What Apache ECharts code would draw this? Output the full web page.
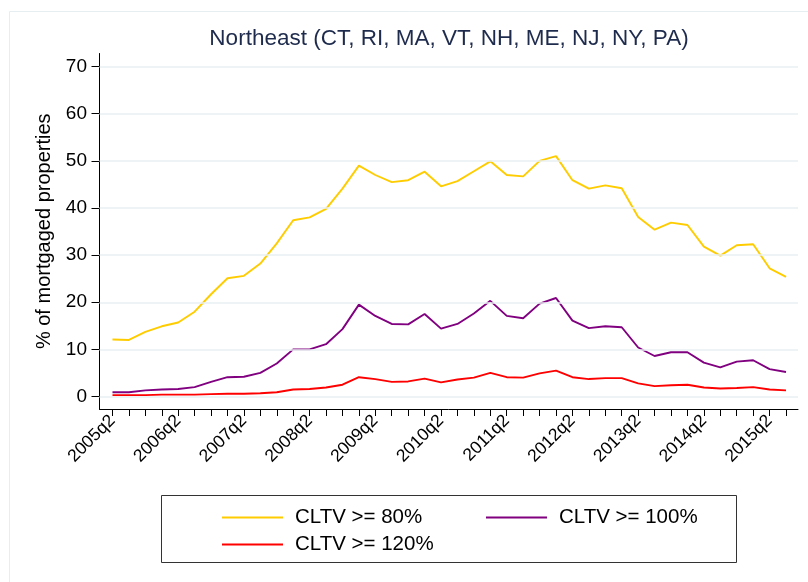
<!DOCTYPE html>
<html>
<head>
<meta charset="utf-8">
<script src="https://cdn.jsdelivr.net/npm/echarts@6/dist/echarts.min.js"></script>
<style>
  html, body { margin: 0; padding: 0; background: #fff; }
  #chart { width: 808px; height: 582px; }
</style>
</head>
<body>
<div id="chart"></div>
<script>
// Quarters covered by the series (2005q2 .. 2015q3)
const quarters = [
  '2005q2','2005q3','2005q4','2006q1','2006q2','2006q3','2006q4','2007q1',
  '2007q2','2007q3','2007q4','2008q1','2008q2','2008q3','2008q4','2009q1',
  '2009q2','2009q3','2009q4','2010q1','2010q2','2010q3','2010q4','2011q1',
  '2011q2','2011q3','2011q4','2012q1','2012q2','2012q3','2012q4','2013q1',
  '2013q2','2013q3','2013q4','2014q1','2014q2','2014q3','2014q4','2015q1',
  '2015q2','2015q3'
];

// Share of mortgaged properties (%) by combined loan-to-value threshold
const cltv80 = [
  12.1, 12.0, 13.7, 14.9, 15.7, 18.0, 21.7, 25.1, 25.6, 28.2,
  32.5, 37.4, 38.0, 39.8, 44.1, 49.0, 47.0, 45.5, 45.9, 47.7,
  44.6, 45.7, 47.8, 49.9, 47.0, 46.7, 50.0, 51.0, 45.9, 44.1,
  44.8, 44.2, 38.1, 35.4, 36.9, 36.4, 31.8, 29.9, 32.1, 32.3,
  27.2, 25.4
];
const cltv100 = [
  0.9, 0.9, 1.3, 1.5, 1.6, 2.0, 3.1, 4.1, 4.2, 5.0,
  7.0, 10.0, 10.0, 11.1, 14.3, 19.5, 17.1, 15.4, 15.3, 17.5,
  14.4, 15.4, 17.6, 20.3, 17.1, 16.6, 19.7, 20.9, 16.1, 14.5,
  14.9, 14.7, 10.4, 8.6, 9.4, 9.4, 7.2, 6.2, 7.4, 7.7,
  5.8, 5.2
];
const cltv120 = [
  0.3, 0.3, 0.3, 0.4, 0.4, 0.4, 0.5, 0.6, 0.6, 0.7,
  0.9, 1.5, 1.6, 1.9, 2.5, 4.1, 3.7, 3.1, 3.2, 3.8,
  3.0, 3.6, 4.0, 5.0, 4.1, 4.0, 4.9, 5.5, 4.1, 3.7,
  3.9, 3.9, 2.8, 2.2, 2.4, 2.5, 1.9, 1.7, 1.8, 2.0,
  1.5, 1.3
];

const yTicks = [0, 10, 20, 30, 40, 50, 60, 70];
const seriesNames = ['CLTV >= 80%', 'CLTV >= 100%', 'CLTV >= 120%'];
const seriesColors = ['#ffcc00', '#800080', '#ff0000'];

const xTicks = quarters.map((q, i) => i);
const xLabelTicks = xTicks.filter(i => i % 4 === 0);
const toPairs = arr => arr.map((v, i) => [i, v]);

const FONT = "'Liberation Sans', Arial, Helvetica, sans-serif";

const chart = echarts.init(document.getElementById('chart'), null, { renderer: 'canvas' });

function legendItem(name, left, top) {
  return {
    data: [name],
    left: left,
    top: top,
    padding: 0,
    orient: 'horizontal',
    icon: 'rect',
    itemWidth: 61,
    itemHeight: 2,
    selectedMode: false,
    textStyle: { fontFamily: FONT, fontSize: 20.5, color: '#000', padding: [0, 0, 0, 7] }
  };
}

chart.setOption({
  backgroundColor: '#ffffff',
  animation: false,
  title: {
    text: 'Northeast (CT, RI, MA, VT, NH, ME, NJ, NY, PA)',
    left: 449,
    top: 27,
    padding: 0,
    textAlign: 'center',
    textStyle: { fontFamily: FONT, fontSize: 22.5, fontWeight: 'normal', color: '#1e2b4d' }
  },
  graphic: [
    {
      type: 'rect',
      shape: { x: 9.5, y: 11.5, width: 820, height: 620 },
      style: { fill: 'none', stroke: '#e6eef1', lineWidth: 1 },
      silent: true, z: -1
    },
    {
      type: 'rect',
      shape: { x: 161.5, y: 495.5, width: 575, height: 67 },
      style: { fill: 'none', stroke: '#333', lineWidth: 1 },
      silent: true
    }
  ],
  legend: [
    legendItem(seriesNames[0], 222, 507),
    legendItem(seriesNames[1], 486, 507),
    legendItem(seriesNames[2], 222, 534)
  ],
  grid: { left: 99.5, right: 10, top: 53.5, bottom: 173, containLabel: false },
  xAxis: {
    type: 'value',
    min: -0.79,
    max: 41.73,
    axisLine: { show: true, onZero: false, lineStyle: { color: '#000', width: 1 } },
    axisTick: { show: true, length: 7, customValues: xTicks, lineStyle: { color: '#000' } },
    axisLabel: {
      customValues: xLabelTicks,
      rotate: 45,
      margin: 9,
      fontFamily: FONT, fontSize: 17.5, color: '#000',
      formatter: v => quarters[Math.round(v)]
    },
    splitLine: { show: false }
  },
  yAxis: {
    type: 'value',
    min: -2.65,
    max: 72.78,
    name: '% of mortgaged properties',
    nameLocation: 'middle',
    nameGap: 45,
    nameTextStyle: { fontFamily: FONT, fontSize: 20, color: '#000' },
    axisLine: { show: true, onZero: false, lineStyle: { color: '#000', width: 1 } },
    axisTick: { show: true, length: 8, customValues: yTicks, lineStyle: { color: '#000' } },
    axisLabel: {
      customValues: yTicks,
      margin: 12.5,
      fontFamily: FONT, fontSize: 19, color: '#000'
    },
    splitLine: { show: false }
  },
  series: [
    {
      // horizontal reference lines at the labelled y values
      type: 'line', data: [], silent: true,
      markLine: {
        silent: true, symbol: 'none', label: { show: false },
        lineStyle: { color: '#e8eff2', width: 1.5, type: 'solid' },
        data: yTicks.map(v => ({ yAxis: v }))
      },
      z: 1
    },
    ...seriesNames.map((name, k) => ({
      name: name,
      type: 'line',
      data: toPairs([cltv80, cltv100, cltv120][k]),
      showSymbol: false,
      symbol: 'none',
      color: seriesColors[k],
      lineStyle: { color: seriesColors[k], width: 1.9 },
      z: 3
    }))
  ]
});
</script>
</body>
</html>
